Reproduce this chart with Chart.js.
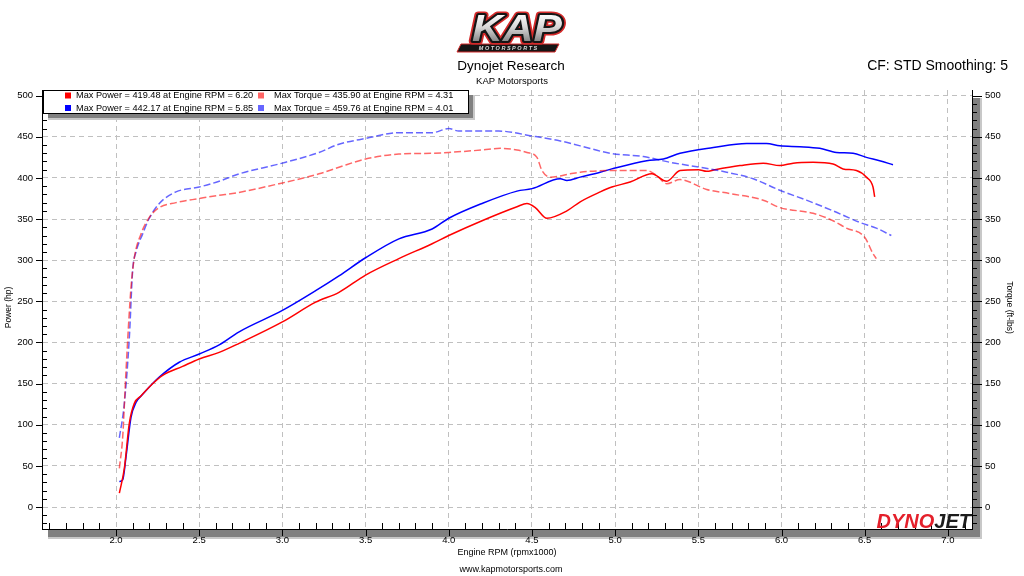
<!DOCTYPE html>
<html>
<head>
<meta charset="utf-8">
<script src="https://cdn.jsdelivr.net/npm/chart.js@4.4.1/dist/chart.umd.min.js"></script>
<style>
  body { margin: 0; background: #fff; }
  canvas { display: block; }
</style>
</head>
<body>
<canvas id="dyno" width="1024" height="576"></canvas>
<script>
const FONT = '"Liberation Sans", Arial, sans-serif';

// run 1 (red)
const run1PowerRpm = [2.02, 2.05, 2.08, 2.11, 2.15, 2.20, 2.28, 2.40, 2.50, 2.62, 2.74, 3.00, 3.20, 3.34, 3.50, 3.70, 3.90, 4.00, 4.20, 4.41, 4.47, 4.52, 4.59, 4.71, 4.79, 4.91, 4.98, 5.09, 5.22, 5.31, 5.39, 5.50, 5.55, 5.60, 5.75, 5.89, 5.99, 6.07, 6.19, 6.31, 6.37, 6.45, 6.51, 6.55, 6.56];
const run1Power    = [17, 47, 102, 126, 135, 146, 160, 171, 180, 188, 199, 225, 249, 261, 282, 302, 320, 330, 348, 365, 369, 364, 351, 360, 371, 383, 389, 395, 405, 396, 409, 410, 408, 410, 415, 418, 415, 418, 419, 417, 411, 409, 401, 389, 377];
const run1TorqueRpm = [2.02, 2.04, 2.06, 2.09, 2.11, 2.15, 2.20, 2.26, 2.36, 2.50, 2.62, 2.70, 2.98, 3.22, 3.34, 3.50, 3.70, 3.90, 4.00, 4.20, 4.31, 4.41, 4.47, 4.53, 4.56, 4.61, 4.73, 4.79, 4.98, 5.19, 5.25, 5.31, 5.39, 5.55, 5.69, 5.89, 5.99, 6.19, 6.31, 6.39, 6.50, 6.55, 6.57];
const run1Torque    = [47, 85, 166, 267, 303, 332, 352, 364, 370, 375, 379, 381, 393, 405, 413, 423, 429, 430, 431, 434, 436, 434, 431, 425, 409, 401, 405, 407, 409, 409, 403, 393, 398, 386, 381, 373, 364, 357, 348, 339, 328, 308, 302];

// run 2 (blue)
const run2PowerRpm = [2.02, 2.04, 2.06, 2.09, 2.12, 2.16, 2.20, 2.26, 2.38, 2.50, 2.62, 2.74, 3.00, 3.20, 3.34, 3.50, 3.70, 3.90, 4.00, 4.20, 4.41, 4.50, 4.67, 4.71, 4.79, 4.91, 4.98, 5.19, 5.29, 5.39, 5.59, 5.79, 5.91, 5.99, 6.11, 6.23, 6.33, 6.43, 6.51, 6.59, 6.67];
const run2Power    = [31, 33, 61, 109, 127, 137, 146, 158, 176, 186, 197, 213, 239, 263, 281, 303, 326, 338, 351, 369, 384, 387, 399, 397, 401, 407, 411, 421, 423, 430, 437, 442, 442, 439, 438, 436, 431, 430, 425, 421, 416];
const run2TorqueRpm = [2.02, 2.05, 2.08, 2.10, 2.12, 2.16, 2.20, 2.26, 2.36, 2.50, 2.62, 2.74, 2.98, 3.22, 3.34, 3.50, 3.70, 3.90, 4.00, 4.06, 4.30, 4.50, 4.67, 4.79, 4.97, 5.17, 5.33, 5.51, 5.67, 5.83, 5.99, 6.15, 6.31, 6.47, 6.57, 6.66];
const run2Torque    = [84, 126, 206, 288, 310, 332, 351, 369, 383, 389, 396, 405, 417, 431, 441, 448, 455, 455, 460, 457, 457, 451, 445, 439, 430, 426, 419, 413, 407, 399, 385, 373, 360, 346, 339, 330];

const legendLabels = [
  'Max Power = 419.48 at Engine RPM = 6.20',
  'Max Torque = 435.90 at Engine RPM = 4.31',
  'Max Power = 442.17 at Engine RPM = 5.85',
  'Max Torque = 459.76 at Engine RPM = 4.01'
];
const xTicks = [2.0, 2.5, 3.0, 3.5, 4.0, 4.5, 5.0, 5.5, 6.0, 6.5, 7.0];
const yTicks = [0, 50, 100, 150, 200, 250, 300, 350, 400, 450, 500];

const zip = (xs, ys) => xs.map((v, i) => ({ x: v, y: ys[i] }));

function line(label, xs, ys, color, axis, dashed) {
  return {
    label: label,
    data: zip(xs, ys),
    yAxisID: axis,
    borderColor: color,
    borderWidth: 1.5,
    borderDash: dashed ? [7, 3] : [],
    pointRadius: 0,
    cubicInterpolationMode: 'monotone',
    fill: false
  };
}

const datasets = [
  line(legendLabels[1], run1TorqueRpm, run1Torque, 'rgba(255,0,0,0.6)', 'y1', true),
  line(legendLabels[3], run2TorqueRpm, run2Torque, 'rgba(0,0,255,0.6)', 'y1', true),
  line(legendLabels[0], run1PowerRpm, run1Power, '#ff0000', 'y', false),
  line(legendLabels[2], run2PowerRpm, run2Power, '#0000ff', 'y', false)
];
const legendColors = ['#ff0000', '#ff6666', '#0000ff', '#6666ff'];

function text(ctx, str, x, y, size, align, color, weight) {
  ctx.font = (weight || '') + ' ' + size + 'px ' + FONT;
  ctx.textAlign = align || 'center';
  ctx.textBaseline = 'middle';
  ctx.fillStyle = color || '#000';
  ctx.fillText(str, x, y);
}

function drawKapLogo(ctx) {
  ctx.save();
  ctx.beginPath();
  ctx.moveTo(461, 44); ctx.lineTo(559, 44); ctx.lineTo(555, 52); ctx.lineTo(457, 52);
  ctx.closePath();
  ctx.fillStyle = '#151515'; ctx.fill();
  ctx.strokeStyle = '#d42a2a'; ctx.lineWidth = 1; ctx.stroke();
  text(ctx, 'M O T O R S P O R T S', 508, 48.5, 5.5, 'center', '#ddd', 'bold italic');

  ctx.translate(517, 41);
  ctx.scale(1.15, 1);
  ctx.font = 'italic 900 37px ' + FONT;
  ctx.textAlign = 'center';
  ctx.textBaseline = 'alphabetic';
  ctx.lineJoin = 'round';
  ctx.strokeStyle = '#d42a2a'; ctx.lineWidth = 7; ctx.strokeText('KAP', 0, 0);
  ctx.strokeStyle = '#151515'; ctx.lineWidth = 4; ctx.strokeText('KAP', 0, 0);
  const g = ctx.createLinearGradient(0, -28, 0, 0);
  g.addColorStop(0, '#ffffff'); g.addColorStop(0.5, '#d8d8d8'); g.addColorStop(1, '#8a8a8a');
  ctx.fillStyle = g; ctx.fillText('KAP', 0, 0);
  ctx.restore();
}

function drawDynojet(ctx, right, base) {
  ctx.save();
  ctx.font = 'italic bold 20px ' + FONT;
  ctx.textBaseline = 'alphabetic';
  ctx.textAlign = 'left';
  const w1 = ctx.measureText('DYNO').width, w2 = ctx.measureText('JET').width;
  const x0 = right - w1 - w2;
  ctx.fillStyle = '#e4202b'; ctx.fillText('DYNO', x0, base);
  ctx.fillStyle = '#1c1c1c'; ctx.fillText('JET', x0 + w1, base);
  ctx.restore();
}

const dynoPlugin = {
  id: 'dyno',
  beforeDraw(chart) {
    const ctx = chart.ctx, a = chart.chartArea;
    ctx.save();
    ctx.fillStyle = '#fff';
    ctx.fillRect(0, 0, chart.width, chart.height);
    ctx.fillStyle = '#c8c8c8';
    ctx.fillRect(a.right + 1, a.top + 8, 9, a.bottom - a.top);
    ctx.fillRect(a.left + 6, a.bottom + 1, a.right - a.left + 4, 9);
    ctx.fillStyle = '#808080';
    ctx.fillRect(a.right + 1, a.top + 8, 7, a.bottom - a.top);
    ctx.fillRect(a.left + 6, a.bottom + 1, a.right - a.left + 2, 7);
    ctx.restore();
  },
  afterDraw(chart) {
    const ctx = chart.ctx, a = chart.chartArea;
    const { x, y } = chart.scales;
    ctx.save();

    // tick marks
    ctx.strokeStyle = '#000';
    ctx.lineWidth = 1;
    ctx.beginPath();
    for (let i = 16; i <= 71; i++) {
      const px = Math.round(x.getPixelForValue(i / 10)) + 0.5;
      if (i % 5 === 0) { ctx.moveTo(px, a.bottom); ctx.lineTo(px, a.bottom + 7); }
      else { ctx.moveTo(px, a.bottom); ctx.lineTo(px, a.bottom - 6); }
    }
    for (let v = -20; v <= 500; v += 10) {
      const py = Math.round(y.getPixelForValue(v)) + 0.5;
      if (v % 50 === 0) {
        ctx.moveTo(a.left - 6, py); ctx.lineTo(a.left, py);
        ctx.moveTo(a.right, py); ctx.lineTo(a.right + 10, py);
      } else {
        ctx.moveTo(a.left, py); ctx.lineTo(a.left + 5, py);
        ctx.moveTo(a.right, py); ctx.lineTo(a.right + 5, py);
      }
    }
    ctx.stroke();

    // legend box
    const bx = a.left + 1, by = a.top, bw = 425, bh = 23;
    ctx.fillStyle = '#c8c8c8';
    ctx.fillRect(bx + 5, by + 5, bw + 2, bh + 2);
    ctx.fillStyle = '#808080';
    ctx.fillRect(bx + 5, by + 5, bw, bh);
    ctx.fillStyle = '#fff';
    ctx.fillRect(bx, by, bw, bh);
    ctx.strokeStyle = '#000';
    ctx.strokeRect(bx + 0.5, by + 0.5, bw, bh);
    legendLabels.forEach((lbl, i) => {
      const col = i % 2, row = Math.floor(i / 2);
      const sx = bx + 22 + col * 193, sy = by + 5.5 + row * 12.5;
      ctx.fillStyle = legendColors[i];
      ctx.fillRect(sx, sy - 3, 6, 6);
      text(ctx, lbl, sx + (col ? 16 : 11), sy, 9.2, 'left', '#000');
    });

    // titles
    drawKapLogo(ctx);
    text(ctx, 'Dynojet Research', 511, 66, 13.5, 'center', '#000');
    text(ctx, 'KAP Motorsports', 512, 81, 9.5, 'center', '#000');
    text(ctx, 'CF: STD Smoothing: 5', 1008, 66, 14, 'right', '#000');
    text(ctx, 'Engine RPM (rpmx1000)', (a.left + a.right) / 2, 553, 9, 'center', '#000');
    text(ctx, 'www.kapmotorsports.com', 511, 570, 9, 'center', '#000');

    ctx.save();
    ctx.translate(9, (a.top + a.bottom) / 2 - 2);
    ctx.rotate(-Math.PI / 2);
    text(ctx, 'Power (hp)', 0, 0, 8.5, 'center', '#000');
    ctx.restore();
    ctx.save();
    ctx.translate(1009, (a.top + a.bottom) / 2 - 2);
    ctx.rotate(Math.PI / 2);
    text(ctx, 'Torque (ft-lbs)', 0, 0, 8.5, 'center', '#000');
    ctx.restore();

    drawDynojet(ctx, a.right - 1, a.bottom - 1);
    ctx.restore();
  }
};

const tickFont = { family: FONT, size: 9.5 };
const Y_MIN = -26.7, Y_MAX = 506.9;

new Chart(document.getElementById('dyno').getContext('2d'), {
  type: 'line',
  data: { datasets: datasets },
  plugins: [dynoPlugin],
  options: {
    responsive: false,
    animation: false,
    devicePixelRatio: 1,
    layout: { padding: { top: 90, left: 0, right: 0, bottom: 0 } },
    plugins: { legend: { display: false }, tooltip: { enabled: false } },
    scales: {
      x: {
        type: 'linear',
        min: 1.555,
        max: 7.145,
        afterBuildTicks: s => { s.ticks = xTicks.map(v => ({ value: v })); },
        afterFit: s => { s.height = 47; },
        ticks: { color: '#000', font: tickFont, padding: 6, maxRotation: 0, callback: v => v.toFixed(1) },
        grid: { color: '#c0c0c0', drawTicks: false },
        border: { color: '#000', width: 1, dash: [5, 4] }
      },
      y: {
        position: 'left',
        min: Y_MIN,
        max: Y_MAX,
        afterBuildTicks: s => { s.ticks = yTicks.map(v => ({ value: v })); },
        afterFit: s => { s.width = 42; },
        ticks: { color: '#000', font: tickFont, padding: 9 },
        grid: { color: '#c0c0c0', drawTicks: false },
        border: { color: '#000', width: 1, dash: [5, 4] }
      },
      y1: {
        position: 'right',
        min: Y_MIN,
        max: Y_MAX,
        afterBuildTicks: s => { s.ticks = yTicks.map(v => ({ value: v })); },
        afterFit: s => { s.width = 52; },
        ticks: { color: '#000', font: tickFont, padding: 13 },
        grid: { drawOnChartArea: false, drawTicks: false },
        border: { color: '#000', width: 1 }
      }
    }
  }
});
</script>
</body>
</html>
